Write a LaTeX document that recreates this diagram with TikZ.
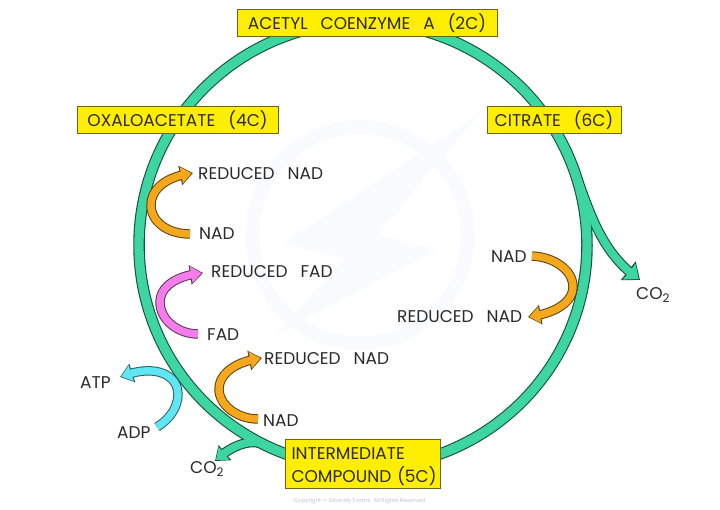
\documentclass[tikz,border=0pt]{standalone}
\usepackage{fontspec}
\setmainfont{Poppins}
\usetikzlibrary{arrows.meta,bending}
\definecolor{ringc}{HTML}{3DD6A3}
\definecolor{ringd}{HTML}{17513F}
\definecolor{boxy}{HTML}{FFEE00}
\definecolor{boxd}{HTML}{6B6414}
\definecolor{orangec}{HTML}{F5A81C}
\definecolor{oranged}{HTML}{5A4210}
\definecolor{pinkc}{HTML}{F57DEB}
\definecolor{pinkd}{HTML}{5C3558}
\definecolor{cyanc}{HTML}{5FE6F2}
\definecolor{cyand}{HTML}{2C6068}
\definecolor{txt}{HTML}{2A2A2A}
\definecolor{wm}{HTML}{FAFBFE}
\newcommand{\gp}{\hspace{13pt}}
\tikzset{x=1pt,y=-1pt,
 lbl/.style={font=\fontsize{17}{20}\selectfont,text=txt,inner sep=0pt},
 stage/.style={draw=boxd,fill=boxy,line width=1pt,font=\fontsize{17}{23}\selectfont,text=txt,inner sep=0pt,minimum height=27pt,align=left},
 arrowout/.style={line width=#1,-{Triangle[flex,length=13pt,width=19pt]}},
 arrowin/.style={line width=#1,shorten >=1.4pt,-{Triangle[flex,length=10.5pt,width=16pt]}},
 bigout/.style={line width=#1,-{Triangle[flex,length=15pt,width=23pt]}},
 bigin/.style={line width=#1,shorten >=1.6pt,-{Triangle[flex,length=12pt,width=19.5pt]}},
}
\newcommand{\bandarrow}[3]{% dark, light, path
 \draw[#1,arrowout=9.4pt] #3;
 \draw[#2,arrowin=7.4pt] #3;
}
\begin{document}
\begin{tikzpicture}
\useasboundingbox (0,0) rectangle (720,510);
\fill[white] (0,0) rectangle (720,510);
% faint watermark
\draw[wm,line width=14pt] (360,235) circle [radius=108];
\fill[wm] (480,113) -- (283,243) -- (345,258) -- (275,335) -- (437,250) -- (377,235) -- cycle;
% named points
\coordinate (rc) at (363,245);
\coordinate (s1) at (190,234);\coordinate (t1) at (193,173);
\coordinate (s2) at (198,334);\coordinate (t2) at (203,273);
\coordinate (s3) at (258,419);\coordinate (t3) at (262,358);
\coordinate (s4) at (157,427);\coordinate (t4) at (120,377);
\coordinate (s5) at (532,256);\coordinate (t5) at (528,317);
\coordinate (b1) at (570,160);\coordinate (co2r) at (640,280);
\coordinate (b2) at (264,444.6);\coordinate (co2l) at (215,461);
% ring + branches, dark layer
\draw[ringd,line width=11.5pt] (rc) ellipse [x radius=224,y radius=222.5];
\draw[ringd,bigout=10pt] (b1) .. controls (589,206) and (597,250) .. (co2r);
\draw[ringd,arrowout=10pt] (b2) .. controls (250,437.6) and (229,447) .. (co2l);
% light layer
\draw[ringc,line width=9.3pt] (rc) ellipse [x radius=224,y radius=222.5];
\draw[ringc,bigin=7.8pt] (b1) .. controls (589,206) and (597,250) .. (co2r);
\draw[ringc,arrowin=7.8pt] (b2) .. controls (250,437.6) and (229,447) .. (co2l);
% small arrows
\bandarrow{oranged}{orangec}{(s1) .. controls (168,234) and (151,222) .. (151,205) .. controls (151,188) and (168,176) .. (t1)}
\bandarrow{pinkd}{pinkc}{(s2) .. controls (178,334) and (160,320) .. (160,302) .. controls (160,286) and (178,275) .. (t2)}
\bandarrow{oranged}{orangec}{(s3) .. controls (237,419) and (219,405) .. (219,389) .. controls (219,373) and (237,361) .. (t3)}
\bandarrow{cyand}{cyanc}{(s4) .. controls (170,419) and (178,407) .. (178,394) .. controls (178,377) and (158,362) .. (t4)}
\bandarrow{oranged}{orangec}{(s5) .. controls (554,257) and (573,270) .. (573,287) .. controls (573,303) and (553,314) .. (t5)}
% stages
\node[stage,minimum width=260pt] (acetyl) at (367,23.5) {ACETYL\gp COENZYME\gp A\gp(2C)};
\node[stage,minimum width=201pt] (oxalo) at (177.5,120.5) {OXALOACETATE\gp(4C)};
\node[stage,minimum width=134pt] (citrate) at (554,120.5) {CITRATE\gp(6C)};
\node[stage,minimum width=155pt,minimum height=49pt,text width=150pt] (inter) at (362.5,463.5) {\rule{0pt}{18pt}\hspace*{4pt}INTERMEDIATE\\\hspace*{4pt}COMPOUND\hspace{6pt}(5C)};
% labels
\node[lbl,anchor=west] (rn1) at (198,174) {REDUCED\gp NAD};
\node[lbl,anchor=west] (n1) at (199,234) {NAD};
\node[lbl,anchor=west] (rf) at (211,272) {REDUCED\gp FAD};
\node[lbl,anchor=west] (f) at (207,335) {FAD};
\node[lbl,anchor=west] (rn3) at (264,359) {REDUCED\gp NAD};
\node[lbl,anchor=west] (n3) at (263,421) {NAD};
\node[lbl,anchor=west] (atp) at (80,383) {ATP};
\node[lbl,anchor=west] (adp) at (117,433) {ADP};
\node[lbl,anchor=west] (cl) at (190,469) {CO\textsubscript{2}};
\node[lbl,anchor=west] (n5) at (491,257) {NAD};
\node[lbl,anchor=west] (rn5) at (397,317) {REDUCED\gp NAD};
\node[lbl,anchor=west] (cr) at (636,295) {CO\textsubscript{2}};
\node[font=\fontsize{5.5}{7}\selectfont,text=blue!20!gray!40!white,inner sep=0pt] (copy) at (359.5,501) {Copyright © Save My Exams. All Rights Reserved};
\end{tikzpicture}
\end{document}
